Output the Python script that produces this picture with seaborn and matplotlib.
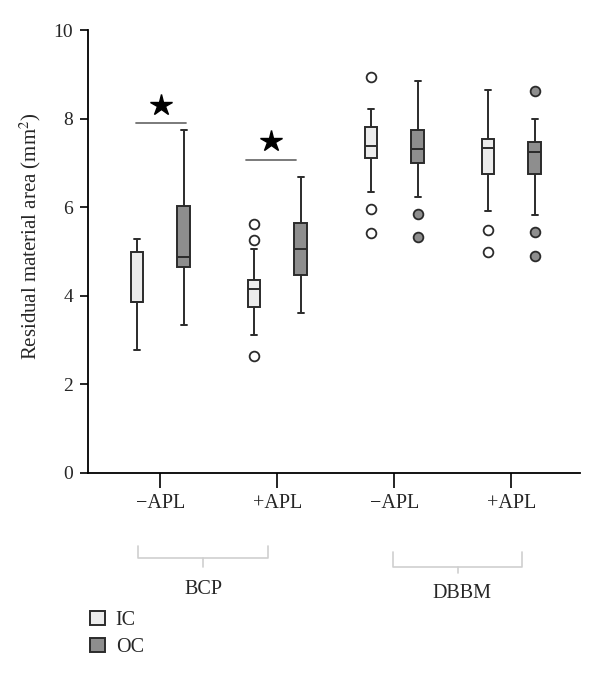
import pandas as pd
import matplotlib
matplotlib.use("Agg")
import matplotlib.pyplot as plt
import seaborn as sns

groups = ["BCP −APL", "BCP +APL", "DBBM −APL", "DBBM +APL"]
tick_labels = ["−APL", "+APL", "−APL", "+APL"]
conditions = ["IC", "OC"]

# box statistics (order follows `groups`)
ic_q1 = [3.85, 3.75, 7.10, 6.76]
ic_median = [3.87, 4.16, 7.38, 7.33]
ic_q3 = [4.98, 4.35, 7.81, 7.55]
ic_low = [2.78, 3.12, 6.34, 5.91]
ic_high = [5.28, 5.05, 8.21, 8.65]
ic_outliers = [[], [2.63, 5.27, 5.61], [5.42, 5.97, 8.95], [4.99, 5.49]]

oc_q1 = [4.64, 4.48, 6.99, 6.75]
oc_median = [4.88, 5.05, 7.31, 7.25]
oc_q3 = [6.03, 5.65, 7.74, 7.48]
oc_low = [3.33, 3.62, 6.22, 5.82]
oc_high = [7.74, 6.68, 8.84, 7.98]
oc_outliers = [[], [], [5.33, 5.84], [4.90, 5.44, 8.62]]

# significance marks (BCP groups only)
sig_groups = [0, 1]
sig_bar_y = [7.89, 7.07]
sig_star_y = [8.3, 7.5]

ic_color = "#ececec"
oc_color = "#8e8e8e"
line_color = "#2b2b2b"


def box_sample(q1, med, q3, low, high, outliers):
    # 13 values arranged so numpy percentiles give q1 / median / q3 exactly
    below = sorted(v for v in outliers if v < q1)
    above = sorted(v for v in outliers if v > q3)
    lower = below + [low] * (3 - len(below))
    upper = [high] * (3 - len(above)) + above
    return lower + [q1] + [med] * 5 + [q3] + upper


rows = []
for i, g in enumerate(groups):
    for v in box_sample(ic_q1[i], ic_median[i], ic_q3[i], ic_low[i], ic_high[i], ic_outliers[i]):
        rows.append((g, "IC", v))
    for v in box_sample(oc_q1[i], oc_median[i], oc_q3[i], oc_low[i], oc_high[i], oc_outliers[i]):
        rows.append((g, "OC", v))
df = pd.DataFrame(rows, columns=["group", "condition", "value"])

sns.set_style("ticks")
plt.rcParams["font.family"] = ["Liberation Serif", "DejaVu Serif"]
plt.rcParams["mathtext.fontset"] = "stix"

fig, ax = plt.subplots(figsize=(6, 6.82), dpi=100)
fig.subplots_adjust(left=0.147, right=0.967, bottom=0.3065, top=0.956)

sns.boxplot(data=df, x="group", y="value", hue="condition", order=groups,
            hue_order=conditions, palette=[ic_color, oc_color], width=0.8, gap=0.74,
            linewidth=1.4, linecolor=line_color,
            flierprops=dict(marker="o", markersize=7, markeredgewidth=1.3),
            ax=ax)

for container, face in zip(ax.containers, ["white", oc_color]):
    for fl in container.fliers:
        fl.set_markerfacecolor(face)
        fl.set_markeredgecolor(line_color)

# significance bars and stars
sig_offsets = [(-0.21, 0.22), (-0.27, 0.16)]
for g, by, sy, (l, r) in zip(sig_groups, sig_bar_y, sig_star_y, sig_offsets):
    ax.plot([g + l, g + r], [by, by], color="#707070", lw=1.3)
    ax.plot([g + (l + r) / 2], [sy], marker="*", ms=16, color="black", ls="none")

ax.set_xlim(-0.615, 3.59)
ax.set_ylim(0, 10)
ax.set_yticks(range(0, 11, 2))
ax.set_xticks(range(4))
ax.set_xticklabels(tick_labels, fontsize=14.5)
ax.tick_params(axis="y", labelsize=14, length=6, width=1.2, pad=5, color="black")
ax.tick_params(axis="x", length=11, width=1.2, pad=4, color="black")
ax.set_xlabel("")
ax.set_ylabel("Residual material area (mm$^2$)", fontsize=15)
ax.yaxis.set_label_coords(-0.0915, 0.535)
sns.despine(ax=ax)
for s in ["left", "bottom"]:
    ax.spines[s].set_color("black")
    ax.spines[s].set_linewidth(1.3)

# group braces under the tick labels
trans = ax.get_xaxis_transform()
braces = [("BCP", -0.188, 0.923, -0.165, -0.192, -0.212, 0.37, -0.262),
          ("DBBM", 1.99, 3.094, -0.178, -0.212, -0.226, 2.58, -0.273)]
for name, x0, x1, ytop, ybot, ytip, tx, ty in braces:
    xm = (x0 + x1) / 2
    ax.plot([x0, x0, x1, x1], [ytop, ybot, ybot, ytop], color="#cfcfcf", lw=1.2,
            transform=trans, clip_on=False)
    ax.plot([xm, xm], [ybot, ytip], color="#cfcfcf", lw=1.2, transform=trans, clip_on=False)
    ax.text(tx, ty, name, transform=trans, ha="center", va="center", fontsize=14.5)

sns.move_legend(ax, "upper left", bbox_to_anchor=(0.004, -0.311), frameon=False,
                title=None, fontsize=14.5, handlelength=0.72, handleheight=0.72,
                handletextpad=0.55, labelspacing=0.4, borderpad=0, borderaxespad=0)

fig.savefig("out.png", dpi=100)
